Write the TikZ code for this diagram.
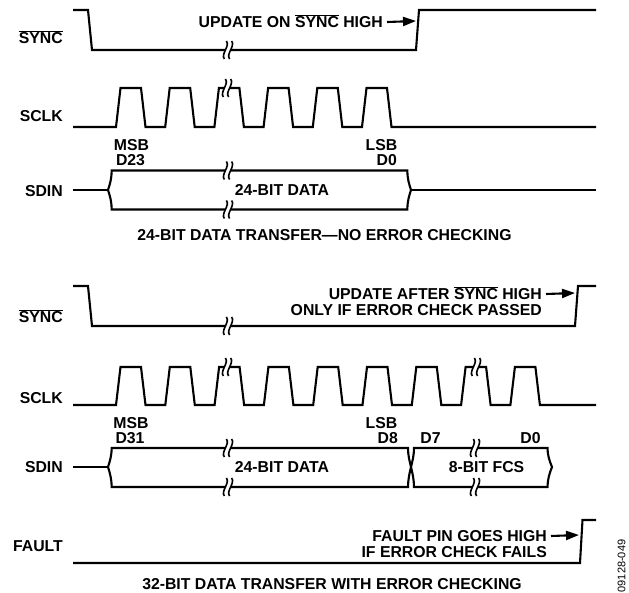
\documentclass[tikz,border=0pt]{standalone}
\usepackage{fontspec}
\setmainfont{Liberation Sans}
\usetikzlibrary{arrows.meta}
\newcommand\ovl[1]{$\overline{\hbox{#1}}$}
\tikzset{
  wave/.style={line width=2.1pt, line join=miter},
  txt/.style={font=\fontsize{15.8}{17}\selectfont\bfseries, inner sep=0pt, text height=11.3pt, text depth=0pt},
  idtxt/.style={font=\fontsize{11}{12}\selectfont, inner sep=0pt, rotate=90},
  arr/.style={line width=2.1pt, -{Triangle[length=13pt,width=9pt]}},
  brk/.style={line width=1.6pt},
}
\newcommand\brkmark[2]{%
  \begin{scope}[shift={(#1,#2)}]
    \fill[white] (-2.8,-1.9) rectangle (2.8,1.9);
    \draw[brk] (-1.6,-9) .. controls (2.4,-4) and (-7.6,4) .. (-3.6,9);
    \draw[brk] (3.6,-9) .. controls (7.6,-4) and (-2.4,4) .. (1.6,9);
  \end{scope}}
\begin{document}
\begin{tikzpicture}[x=1pt,y=-1pt]
\useasboundingbox (0,0) rectangle (629,592);

% ---------------- top section ----------------
\node[txt,anchor=east] (sync1) at (63,38) {\ovl{SYNC}};
\node[txt,anchor=east] (sclk1) at (63,116) {SCLK};
\node[txt,anchor=east] (sdin1) at (63,191) {SDIN};

\draw[wave] (73,10) -- (88,10) -- (92,50) -- (416,50) -- (419,10) -- (596,10);
\brkmark{228}{50}

\node[txt,anchor=east] (upd1) at (383,22) {UPDATE ON \ovl{SYNC} HIGH};
\coordinate (upd1tip) at (416,21);
\draw[arr] ([xshift=4pt]upd1.east) -- (upd1tip);

\draw[wave] (73,127) foreach \r in {116,165.2,214.4,263.6,312.8,362} {
  -- (\r,127) -- ({\r+4.5},88) -- ({\r+25},88) -- ({\r+29.5},127) } -- (596,127);
\brkmark{227}{88}

\draw[wave] (73,190) -- (108,190);
\draw[wave] (108,190) .. controls (110,184) and (111.7,178) .. (111.7,170.5) -- (407.3,170.5)
  .. controls (407.3,178) and (409,184) .. (411,190)
  .. controls (409,196) and (407.3,202) .. (407.3,209.5) -- (111.7,209.5)
  .. controls (111.7,202) and (110,196) .. (108,190);
\draw[wave] (411,190) -- (596,190);
\brkmark{228}{170.5}
\brkmark{228}{209.5}

\node[txt] (msb1) at (131.5,145) {MSB};
\node[txt] (d23) at (130.5,160) {D23};
\node[txt] (lsb1) at (381.5,145) {LSB};
\node[txt,anchor=east] (d0a) at (397,160) {D0};
\node[txt] (data1) at (282,190) {24-BIT DATA};
\node[txt] (cap1) at (324.5,235) {24-BIT DATA TRANSFER—NO ERROR CHECKING};

% ---------------- bottom section ----------------
\node[txt,anchor=east] (sync2) at (63,317) {\ovl{SYNC}};
\node[txt,anchor=east] (sclk2) at (63,398) {SCLK};
\node[txt,anchor=east] (sdin2) at (63,467) {SDIN};
\node[txt,anchor=east] (fault) at (63,546) {FAULT};

\draw[wave] (73,286) -- (88,286) -- (92,326) -- (575,326) -- (578,286) -- (596,286);
\brkmark{228}{326}

\node[txt,anchor=east] (upd2a) at (542,294) {UPDATE AFTER \ovl{SYNC} HIGH};
\node[txt,anchor=east] (upd2b) at (542,310) {ONLY IF ERROR CHECK PASSED};
\coordinate (upd2tip) at (575,293);
\draw[arr] ([xshift=4pt]upd2a.east) -- (upd2tip);

\draw[wave] (73,405) foreach \r in {116,165.3,214.6,263.9,313.2,362.5,411.8,461.1,510.4} {
  -- (\r,405) -- ({\r+4.5},367) -- ({\r+25},367) -- ({\r+29.5},405) } -- (596,405);
\brkmark{227}{367}
\brkmark{476}{367}

\draw[wave] (73,467) -- (108,467);
\draw[wave] (108,467) .. controls (110,461) and (111.7,455) .. (111.7,448) -- (408,448)
  .. controls (408,455) and (409.5,461) .. (411,467)
  .. controls (409.5,473) and (408,480) .. (408,487) -- (111.7,487)
  .. controls (111.7,480) and (110,473) .. (108,467);
\draw[wave] (411,467) .. controls (412.5,461) and (414,455) .. (414,448) -- (547.5,448)
  .. controls (547.5,455) and (549.5,461) .. (552,467)
  .. controls (549.5,473) and (547.5,480) .. (547.5,487) -- (414,487)
  .. controls (414,480) and (412.5,473) .. (411,467);
\brkmark{228}{448}
\brkmark{228}{487}
\brkmark{475}{448}
\brkmark{475}{487}

\node[txt] (msb2) at (131,423) {MSB};
\node[txt] (d31) at (130,438) {D31};
\node[txt] (lsb2) at (381.5,423) {LSB};
\node[txt,anchor=east] (d8) at (398,438) {D8};
\node[txt] (d7) at (430.5,438) {D7};
\node[txt] (d0b) at (530.5,438) {D0};
\node[txt] (data2) at (282,467) {24-BIT DATA};
\node[txt] (fcs) at (486.5,467) {8-BIT FCS};

\draw[wave] (73,563) -- (580,563) -- (582.5,520) -- (596,520);
\node[txt,anchor=east] (flt1) at (547,536) {FAULT PIN GOES HIGH};
\node[txt,anchor=east] (flt2) at (547,552) {IF ERROR CHECK FAILS};
\coordinate (flttip) at (579,535);
\draw[arr] ([xshift=4pt]flt1.east) -- (flttip);

\node[txt] (cap2) at (332,584) {32-BIT DATA TRANSFER WITH ERROR CHECKING};
\node[idtxt] (figid) at (621.5,566) {09128-049};
\end{tikzpicture}
\end{document}
